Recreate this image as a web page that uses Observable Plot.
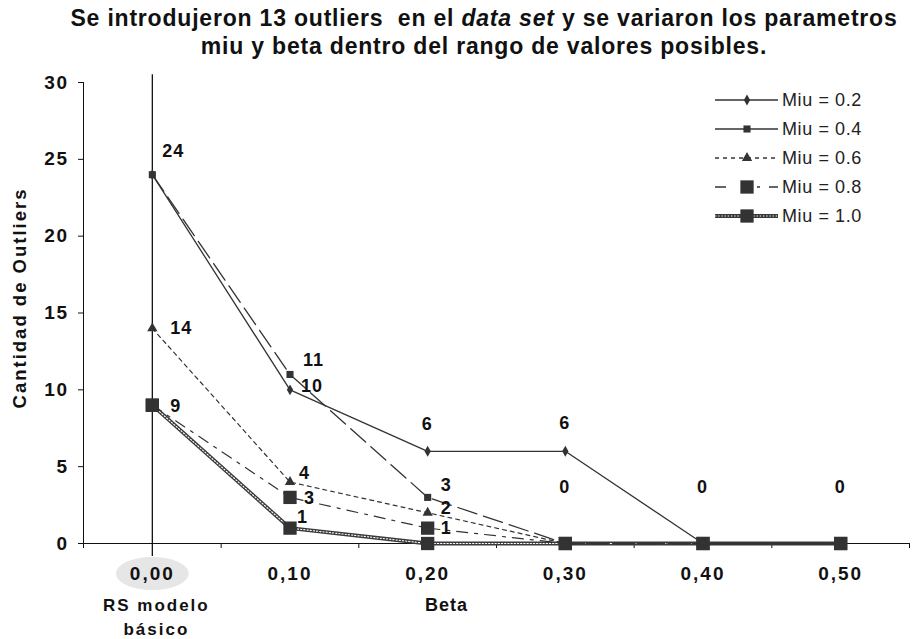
<!DOCTYPE html>
<html>
<head>
<meta charset="utf-8">
<script src="https://cdn.jsdelivr.net/npm/d3@7"></script>
<script src="https://cdn.jsdelivr.net/npm/@observablehq/plot@0.6"></script>
<style>
  body { margin: 0; background: #fff; }
  #wrap { position: relative; width: 913px; height: 639px; font-family: "Liberation Sans", Arial, sans-serif; color: #111; }
  #title { height: 68px; box-sizing: border-box; padding: 4px 0 0 55px; text-align: center; font-weight: bold; font-size: 23px; line-height: 28px; letter-spacing: 0.8px; white-space: nowrap; }
  #legend { position: absolute; left: 0; top: 0; pointer-events: none; }
  svg [aria-label^="y-axis"] text { font-weight: bold; font-size: 19px; letter-spacing: 1.5px; fill: #111; }
  svg [aria-label^="x-axis"] text { display: none; }
</style>
</head>
<body>
<div id="wrap">
  <div id="title">Se introdujeron 13 outliers&nbsp; en el <i>data set</i> y se variaron los parametros<br>miu y beta dentro del rango de valores posibles.</div>
  <div id="chart"></div>
  <svg id="legend" width="913" height="639"></svg>
</div>
<script>
// ---- data ----
const betas = [0, 0.1, 0.2, 0.3, 0.4, 0.5];
const betaLabels = ["0,00", "0,10", "0,20", "0,30", "0,40", "0,50"];
const seriesNames = ["Miu = 0.2", "Miu = 0.4", "Miu = 0.6", "Miu = 0.8", "Miu = 1.0"];
const miu02 = [24, 10, 6, 6, 0, 0];
const miu04 = [24, 11, 3, 0, 0, 0];
const miu06 = [14, 4, 2, 0, 0, 0];
const miu08 = [9, 3, 1, 0, 0, 0];
const miu10 = [9, 1, 0, 0, 0, 0];
const yTicks = [0, 5, 10, 15, 20, 25, 30];
const xTickMarks = [-0.05, 0.05, 0.15, 0.25, 0.35, 0.45, 0.55];
// point labels
const labelBeta  = [0, 0, 0, 0.1, 0.1, 0.1, 0.1, 0.1, 0.2, 0.2, 0.2, 0.2, 0.3, 0.3, 0.4, 0.5];
const labelValue = [24, 14, 9, 11, 10, 4, 3, 1, 6, 3, 2, 1, 6, 0, 0, 0];
// label placement offsets (dx, dy) in pixels
const labelDx = [10, 18, 18, 13, 11, 9, 14, 7, -6, 13, 13, 13, -6, -6, -6, -6];
const labelDy = [-23, 0, 1, -14, -4, -9, 1, -11, -27, -12, -5, 0, -28, -56, -56, -56];

const seriesValues = [miu02, miu04, miu06, miu08, miu10];
const rows = [];
seriesValues.forEach((vals, s) => vals.forEach((v, i) => rows.push({series: seriesNames[s], beta: betas[i], value: v})));
const bySeries = name => rows.filter(d => d.series === name);
const labels = labelBeta.map((b, i) => ({beta: b, value: labelValue[i], dx: labelDx[i], dy: labelDy[i]}));

const ink = "#333";
const styles = {
  "Miu = 0.2": {dash: null, width: 1.3, symbol: "diamond", r: 3.3},
  "Miu = 0.4": {dash: "20,7", width: 1.3, symbol: "square", r: 4},
  "Miu = 0.6": {dash: "4,4", width: 1.2, symbol: "triangle", r: 3.8},
  "Miu = 0.8": {dash: "11,7,3,7", width: 1.2, symbol: "square", r: 7.5},
  "Miu = 1.0": {dash: "chain", width: 4, symbol: "square", r: 7.5}
};

const ellipse = {
  draw(ctx, size) {
    const ry = Math.sqrt(size / Math.PI), rx = ry * 2.2, k = 0.5523;
    ctx.moveTo(rx, 0);
    ctx.bezierCurveTo(rx, k * ry, k * rx, ry, 0, ry);
    ctx.bezierCurveTo(-k * rx, ry, -rx, k * ry, -rx, 0);
    ctx.bezierCurveTo(-rx, -k * ry, -k * rx, -ry, 0, -ry);
    ctx.bezierCurveTo(k * rx, -ry, rx, -k * ry, rx, 0);
    ctx.closePath();
  }
};

const chainDark = "#3a3a3a", chainDash = "1.3,1.9";
const lineMarks = [];
const dotMarks = [];
for (const name of ["Miu = 1.0", "Miu = 0.8", "Miu = 0.6", "Miu = 0.4", "Miu = 0.2"]) {
  const st = styles[name];
  const data = bySeries(name);
  if (st.dash === "chain") {
    lineMarks.push(Plot.line(data, {x: "beta", y: "value", stroke: chainDark, strokeWidth: 3.8}));
    lineMarks.push(Plot.line(data, {x: "beta", y: "value", stroke: "#fff", strokeWidth: 1.1, strokeDasharray: chainDash}));
  } else {
    lineMarks.push(Plot.line(data, {x: "beta", y: "value", stroke: ink, strokeWidth: st.width, strokeDasharray: st.dash}));
  }
  dotMarks.push(Plot.dot(data, {x: "beta", y: "value", symbol: st.symbol, r: st.r, fill: ink, stroke: "none"}));
}

const chart = Plot.plot({
  width: 913,
  height: 571,
  marginTop: 14,
  marginBottom: 96,
  marginLeft: 83,
  marginRight: 4,
  style: {fontFamily: "'Liberation Sans', Arial, sans-serif", color: "#111", background: "white", overflow: "visible"},
  x: {domain: [-0.05, 0.55], ticks: xTickMarks, tickFormat: () => "", tickSize: 5, line: true, label: null},
  y: {domain: [0, 30], ticks: yTicks, tickSize: 5, tickPadding: 10, line: true, label: null},
  marks: [
    Plot.dot([betas[0]], {x: d => d, y: () => 0, dy: 30, symbol: ellipse, r: 16.5, fill: "#e6e6e6", stroke: "none"}),
    Plot.ruleX([betas[0]], {y1: -0.85, y2: 30.5, stroke: "#111", strokeWidth: 1.3}),
    ...lineMarks,
    ...dotMarks,
    Plot.text(labels, {x: "beta", y: "value", text: d => String(d.value), textAnchor: "start",
      fontSize: 18, fontWeight: "bold", fill: "#111"}),
    Plot.text(betas, {x: d => d, y: () => 0, text: (d, i) => betaLabels[i], dy: 30, fontSize: 19, fontWeight: "bold", fill: "#111"}),
    Plot.text(["RS modelo\nbásico"], {x: () => betas[0], y: () => 0, text: d => d, dy: 72, dx: 4, fontSize: 17, fontWeight: "bold", lineHeight: 1.4, fill: "#111"}),
    Plot.text(["Beta"], {frameAnchor: "bottom", text: d => d, dx: -50, dy: 67, fontSize: 18, fontWeight: "bold", fill: "#111"}),
    Plot.text(["Cantidad de Outliers"], {frameAnchor: "left", textAnchor: "middle", text: d => d, rotate: -90, dx: -63, dy: -15, fontSize: 18.5, fontWeight: "bold", fill: "#111"})
  ]
});
document.getElementById("chart").appendChild(chart);

// per-label offsets and letter spacing
{
  const textGroups = chart.querySelectorAll('g[aria-label="text"]');
  textGroups[0].querySelectorAll("text").forEach((t, i) => {
    t.setAttribute("dx", labels[i].dx);
    t.setAttribute("dy", labels[i].dy);
    t.style.letterSpacing = "1px";
  });
  const spacing = ["2px", "2px", "1px", "2px"];
  for (let k = 1; k < textGroups.length; k++) textGroups[k].querySelectorAll("text").forEach(t => t.style.letterSpacing = spacing[k - 1]);
}

// ---- legend ----
const leg = d3.select("#legend");
const legTop = 100, legStep = 29, lx1 = 715, lx2 = 778, lm = 747, ltx = 782;
seriesNames.forEach((name, i) => {
  const st = styles[name];
  const y = legTop + i * legStep;
  const g = leg.append("g");
  if (st.dash === "chain") {
    g.append("line").attr("x1", lx1).attr("x2", lx2).attr("y1", y).attr("y2", y).attr("stroke", chainDark).attr("stroke-width", 3.8);
    g.append("line").attr("x1", lx1).attr("x2", lx2).attr("y1", y).attr("y2", y).attr("stroke", "#fff").attr("stroke-width", 1.1).attr("stroke-dasharray", chainDash);
  } else {
    const dash = name === "Miu = 0.4" ? null : name === "Miu = 0.8" ? "11,16,3,12,3,9" : st.dash;
    g.append("line").attr("x1", lx1).attr("x2", lx2).attr("y1", y).attr("y2", y).attr("stroke", ink).attr("stroke-width", 1.3).attr("stroke-dasharray", dash);
  }
  const typ = st.symbol === "diamond" ? d3.symbolDiamond : st.symbol === "triangle" ? d3.symbolTriangle : d3.symbolSquare;
  g.append("path").attr("d", d3.symbol().type(typ).size(Math.PI * st.r * st.r)()).attr("transform", `translate(${lm},${y})`).attr("fill", ink);
  g.append("text").attr("x", ltx).attr("y", y).attr("dy", "0.36em").attr("font-size", 18).attr("letter-spacing", "0.6px")
    .attr("font-family", "'Liberation Sans', Arial, sans-serif").attr("fill", "#222").text(name);
});
</script>
</body>
</html>
